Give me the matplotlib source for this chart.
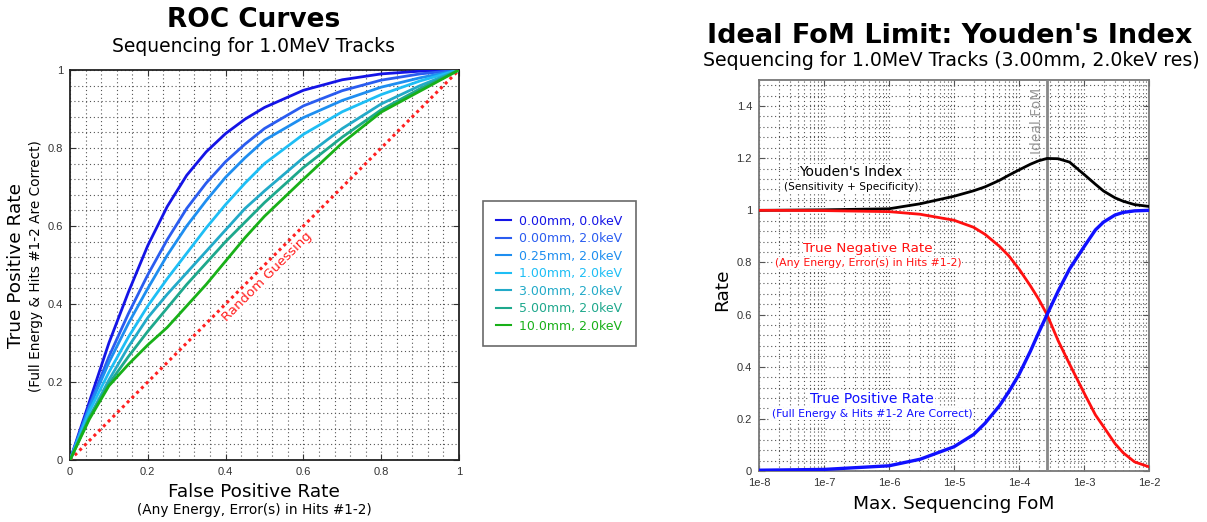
"""
ROC curves for 1.0 MeV track sequencing, plus the Youden's index FoM limit.
"""

import numpy as np
import matplotlib
matplotlib.use('Agg')
import matplotlib.pyplot as plt
from matplotlib.ticker import LogLocator, NullFormatter, FixedLocator, MultipleLocator

plt.rcParams['font.family'] = ['DejaVu Sans']

# ---- ROC data (left panel) ----
FPR = [0.0, 0.05, 0.1, 0.15, 0.2, 0.25, 0.3, 0.35, 0.4, 0.45, 0.5, 0.6, 0.7, 0.8, 0.9, 1.0]

tpr_000_00 = [0.0, 0.15, 0.30, 0.43, 0.55, 0.65, 0.73, 0.79, 0.837, 0.874, 0.904, 0.948, 0.975, 0.99, 0.997, 1.0]
tpr_000_20 = [0.0, 0.14, 0.265, 0.375, 0.475, 0.565, 0.645, 0.71, 0.765, 0.81, 0.85, 0.908, 0.947, 0.974, 0.99, 1.0]
tpr_025_20 = [0.0, 0.135, 0.25, 0.35, 0.44, 0.525, 0.60, 0.665, 0.725, 0.775, 0.82, 0.878, 0.922, 0.956, 0.98, 1.0]
tpr_100_20 = [0.0, 0.125, 0.225, 0.315, 0.395, 0.465, 0.53, 0.595, 0.655, 0.71, 0.76, 0.835, 0.893, 0.937, 0.972, 1.0]
tpr_300_20 = [0.0, 0.11, 0.205, 0.29, 0.365, 0.425, 0.48, 0.535, 0.59, 0.645, 0.69, 0.775, 0.85, 0.913, 0.96, 1.0]
tpr_500_20 = [0.0, 0.11, 0.195, 0.265, 0.33, 0.39, 0.45, 0.505, 0.56, 0.61, 0.66, 0.75, 0.828, 0.898, 0.952, 1.0]
tpr_1000_20 = [0.0, 0.105, 0.19, 0.245, 0.295, 0.34, 0.395, 0.45, 0.51, 0.57, 0.625, 0.72, 0.813, 0.892, 0.946, 1.0]

ROC_SERIES = [tpr_000_00, tpr_000_20, tpr_025_20, tpr_100_20, tpr_300_20, tpr_500_20, tpr_1000_20]
ROC_LABELS = ['0.00mm, 0.0keV', '0.00mm, 2.0keV', '0.25mm, 2.0keV', '1.00mm, 2.0keV',
              '3.00mm, 2.0keV', '5.00mm, 2.0keV', '10.0mm, 2.0keV']
ROC_COLORS = ['#1414e6', '#2a5cf0', '#1e8ef0', '#1ebef5', '#22aac8', '#1ea88c', '#18b018']
ROC_TICKS = [0, 0.2, 0.4, 0.6, 0.8, 1.0]
ROC_TICKLABELS = ['0', '0.2', '0.4', '0.6', '0.8', '1']

# ---- Youden's index data (right panel) ----
FOM = [1e-8, 1e-7, 1e-6, 3e-6, 1e-5, 2e-5, 3e-5, 5e-5, 7e-5, 1e-4, 1.5e-4, 2e-4, 2.7e-4,
       4e-4, 6e-4, 1e-3, 1.5e-3, 2e-3, 3e-3, 4e-3, 6e-3, 1e-2]
tpr = [0.003, 0.006, 0.02, 0.045, 0.093, 0.14, 0.183, 0.25, 0.305, 0.37, 0.46, 0.53, 0.6,
       0.69, 0.775, 0.86, 0.925, 0.955, 0.982, 0.992, 0.998, 1.0]
tnr = [1.0, 0.999, 0.995, 0.985, 0.962, 0.935, 0.908, 0.862, 0.825, 0.775, 0.71, 0.66, 0.6,
       0.5, 0.41, 0.30, 0.215, 0.17, 0.105, 0.07, 0.035, 0.016]
youden = [1.0, 1.002, 1.006, 1.025, 1.054, 1.075, 1.09, 1.115, 1.135, 1.155, 1.177, 1.19, 1.199,
          1.198, 1.185, 1.138, 1.10, 1.074, 1.048, 1.035, 1.022, 1.015]
IDEAL_FOM = 2.7e-4
FOM_TICKS = [1e-8, 1e-7, 1e-6, 1e-5, 1e-4, 1e-3, 1e-2]
FOM_TICKLABELS = ['1e-8', '1e-7', '1e-6', '1e-5', '1e-4', '1e-3', '1e-2']
RATE_TICKS = [0, 0.2, 0.4, 0.6, 0.8, 1.0, 1.2, 1.4]
RATE_TICKLABELS = ['0', '0.2', '0.4', '0.6', '0.8', '1', '1.2', '1.4']

GRID_KW = dict(color='#555555', linestyle=(0, (1, 2.5)), linewidth=0.8)
TICK_FONT = ['Liberation Sans', 'DejaVu Sans']
WHITE_BOX = dict(facecolor='white', edgecolor='none', pad=0.5)

fig = plt.figure(figsize=(12.07, 5.22), dpi=100)

# ---------------- left: ROC curves ----------------
ax = fig.add_axes([70 / 1207, 62 / 522, 389 / 1207, 390 / 522])
ax.plot([0, 1], [0, 1], color='#ff2020', linestyle=(0, (1, 1.2)), linewidth=2.2, zorder=3)
for vals, lab, col in zip(ROC_SERIES, ROC_LABELS, ROC_COLORS):
    ax.plot(FPR, vals, color=col, linewidth=2, label=lab, zorder=4)
ax.set_xlim(0, 1)
ax.set_ylim(0, 1)
ax.xaxis.set_major_locator(FixedLocator(ROC_TICKS))
ax.yaxis.set_major_locator(FixedLocator(ROC_TICKS))
ax.xaxis.set_minor_locator(MultipleLocator(0.04))
ax.yaxis.set_minor_locator(MultipleLocator(0.04))
ax.set_xticklabels(ROC_TICKLABELS, family=TICK_FONT)
ax.set_yticklabels(ROC_TICKLABELS, family=TICK_FONT)
ax.grid(True, which='both', **GRID_KW)
ax.set_axisbelow(True)
ax.tick_params(which='major', direction='in', length=4, labelsize=8, top=True, right=True,
               color='#333333', labelcolor='#333333', pad=5)
ax.tick_params(which='minor', length=0)
for sp in ax.spines.values():
    sp.set_color('#222222')
    sp.set_linewidth(1.3)
ax.text(0.507, 0.47, 'Random Guessing', rotation=45, color='#ff2020', fontsize=9.5,
        ha='center', va='center', rotation_mode='anchor', bbox=WHITE_BOX, zorder=5)

fig.text(254 / 1207, 1 - 20 / 522, 'ROC Curves', ha='center', va='center', fontsize=19,
         fontweight='bold')
fig.text(254 / 1207, 1 - 46 / 522, 'Sequencing for 1.0MeV Tracks', ha='center', va='center',
         fontsize=13.5)
fig.text(254 / 1207, 1 - 492 / 522, 'False Positive Rate', ha='center', va='center', fontsize=13.3)
fig.text(254 / 1207, 1 - 510 / 522, '(Any Energy, Error(s) in Hits #1-2)', ha='center',
         va='center', fontsize=9.8)
fig.text(16 / 1207, 1 - 266 / 522, 'True Positive Rate', ha='center', va='center',
         fontsize=13.3, rotation=90)
fig.text(36 / 1207, 1 - 266 / 522, '(Full Energy & Hits #1-2 Are Correct)', ha='center',
         va='center', fontsize=9.8, rotation=90)

leg = ax.legend(loc='center left', bbox_to_anchor=((483 - 70) / 389, 0.478), fontsize=9,
                frameon=True, fancybox=False, handlelength=1.2, handletextpad=0.65,
                borderpad=1.05, labelspacing=0.36, borderaxespad=0)
leg.get_frame().set_edgecolor('#444444')
leg.get_frame().set_linewidth(1.2)
for txt, col in zip(leg.get_texts(), ROC_COLORS):
    txt.set_color(col)
for line in leg.get_lines():
    line.set_linewidth(1.5)

# ---------------- right: Youden's index ----------------
ax2 = fig.add_axes([759 / 1207, 51 / 522, 390 / 1207, 391 / 522])
ax2.plot(FOM, youden, color='black', linewidth=2, zorder=4)
ax2.plot(FOM, tnr, color='#ff1010', linewidth=2, zorder=4)
ax2.plot(FOM, tpr, color='#1010ff', linewidth=2.4, zorder=4)
ax2.axvline(IDEAL_FOM, color='#888888', linewidth=2, zorder=3)
ax2.set_xscale('log')
ax2.set_xlim(1e-8, 1e-2)
ax2.set_ylim(0, 1.5)
ax2.xaxis.set_major_locator(FixedLocator(FOM_TICKS))
ax2.xaxis.set_minor_locator(LogLocator(base=10, subs=np.arange(2, 10), numticks=20))
ax2.xaxis.set_minor_formatter(NullFormatter())
ax2.set_xticklabels(FOM_TICKLABELS, family=TICK_FONT)
ax2.yaxis.set_major_locator(FixedLocator(RATE_TICKS))
ax2.set_yticklabels(RATE_TICKLABELS, family=TICK_FONT)
ax2.yaxis.set_minor_locator(MultipleLocator(0.04))
ax2.grid(True, which='both', **GRID_KW)
ax2.set_axisbelow(True)
ax2.tick_params(which='major', direction='in', length=4, labelsize=8, top=True, right=True,
                color='#555555', labelcolor='#333333', pad=5)
ax2.tick_params(which='minor', length=0)
for sp in ax2.spines.values():
    sp.set_color('#777777')
    sp.set_linewidth(1.3)

ax2.text(1.9e-4, 1.469, 'Ideal FoM', rotation=90, color='#999999', fontsize=10,
         ha='center', va='top')
ax2.text(2.6e-7, 1.147, "Youden's Index", color='black', fontsize=10, ha='center',
         va='center', bbox=WHITE_BOX, zorder=5)
ax2.text(2.6e-7, 1.089, '(Sensitivity + Specificity)', color='black', fontsize=7.6,
         ha='center', va='center', bbox=WHITE_BOX, zorder=5)
ax2.text(4.8e-7, 0.855, 'True Negative Rate', color='#ff1010', fontsize=9.7, ha='center',
         va='center', bbox=WHITE_BOX, zorder=5)
ax2.text(4.8e-7, 0.798, '(Any Energy, Error(s) in Hits #1-2)', color='#ff1010', fontsize=7.8,
         ha='center', va='center', bbox=WHITE_BOX, zorder=5)
ax2.text(5.5e-7, 0.276, 'True Positive Rate', color='#1010ff', fontsize=10, ha='center',
         va='center', bbox=WHITE_BOX, zorder=5)
ax2.text(5.5e-7, 0.219, '(Full Energy & Hits #1-2 Are Correct)', color='#1010ff',
         fontsize=7.8, ha='center', va='center', bbox=WHITE_BOX, zorder=5)

fig.text(950 / 1207, 1 - 36 / 522, "Ideal FoM Limit: Youden's Index", ha='center',
         va='center', fontsize=19.5, fontweight='bold')
fig.text(951 / 1207, 1 - 61 / 522, 'Sequencing for 1.0MeV Tracks (3.00mm, 2.0keV res)',
         ha='center', va='center', fontsize=13.6)
fig.text(954 / 1207, 1 - 504 / 522, 'Max. Sequencing FoM', ha='center', va='center',
         fontsize=13.3)
fig.text(722 / 1207, 1 - 290 / 522, 'Rate', ha='center', va='center', fontsize=13.3,
         rotation=90)

fig.savefig('out.png', dpi=100)
